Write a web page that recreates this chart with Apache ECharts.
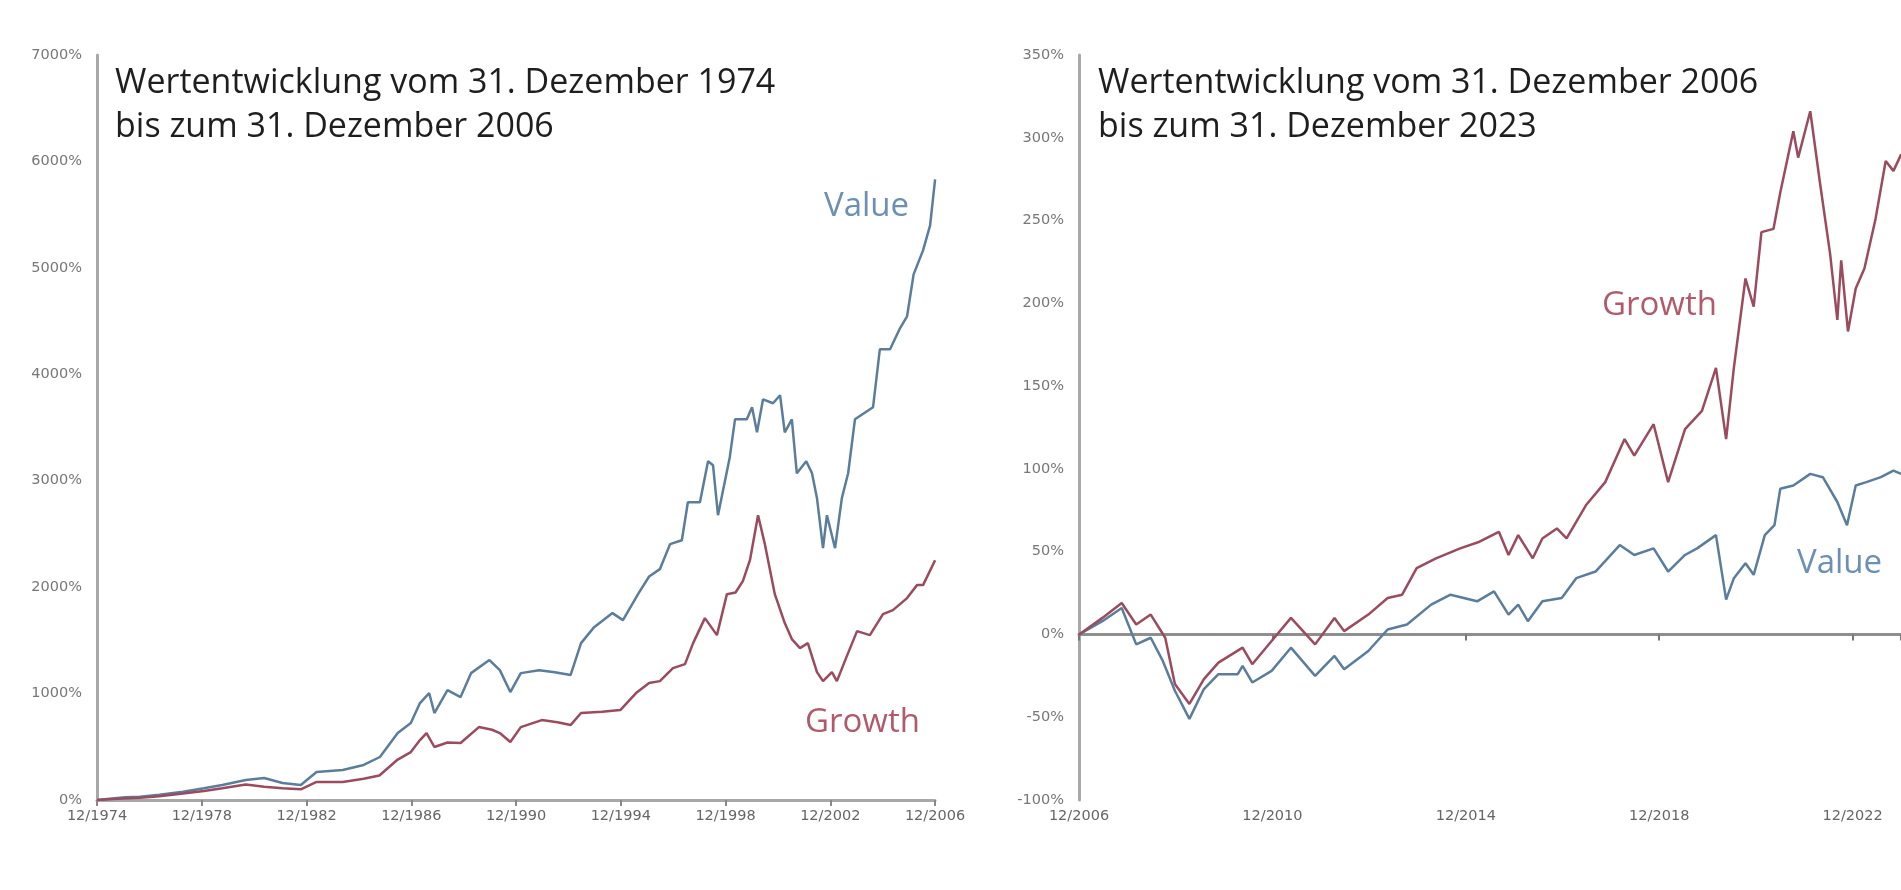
<!DOCTYPE html>
<html>
<head>
<meta charset="utf-8">
<title>Value vs Growth</title>
<script src="https://cdn.jsdelivr.net/npm/echarts@6/dist/echarts.min.js"></script>
<style>
  html, body { margin: 0; padding: 0; background: #ffffff; }
  #chart { width: 1901px; height: 890px; }
</style>
</head>
<body>
<div id="chart"></div>
<script>
// left panel: 12/1974 - 12/2006 (decimal years, cumulative return in %)
const leftValueYears = [1974.92, 1975.5, 1976.0, 1976.56, 1977.3, 1978.2, 1979.0, 1979.7, 1980.6, 1981.3, 1982.0, 1982.7, 1983.3, 1984.3, 1985.1, 1985.72, 1986.4, 1986.9, 1987.25, 1987.6, 1987.8, 1988.3, 1988.8, 1989.2, 1989.9, 1990.3, 1990.7, 1991.1, 1991.8, 1992.4, 1993.0, 1993.4, 1993.9, 1994.6, 1995.0, 1995.6, 1996.0, 1996.41, 1996.8, 1997.25, 1997.48, 1997.94, 1998.25, 1998.44, 1998.63, 1999.08, 1999.28, 1999.73, 1999.93, 2000.12, 2000.35, 2000.73, 2001.0, 2001.18, 2001.45, 2001.64, 2002.0, 2002.22, 2002.41, 2002.64, 2002.79, 2003.1, 2003.36, 2003.6, 2003.86, 2004.55, 2004.81, 2005.2, 2005.58, 2005.85, 2006.1, 2006.46, 2006.73, 2006.92]
const leftValuePct = [0, 15, 25, 31, 50, 78, 110, 141, 188, 207, 160, 141, 263, 282, 329, 404, 629, 723, 911, 1005, 817, 1033, 967, 1192, 1315, 1220, 1014, 1192, 1220, 1200, 1174, 1474, 1624, 1756, 1690, 1944, 2100, 2169, 2404, 2441, 2798, 2798, 3183, 3146, 2676, 3221, 3577, 3577, 3690, 3455, 3765, 3728, 3803, 3455, 3577, 3070, 3183, 3070, 2836, 2366, 2676, 2366, 2836, 3070, 3577, 3690, 4235, 4235, 4432, 4545, 4939, 5164, 5399, 5831]

const leftGrowthYears = [1974.92, 1975.5, 1976.56, 1977.3, 1978.2, 1979.0, 1979.7, 1980.6, 1981.3, 1982.0, 1982.7, 1983.3, 1984.3, 1985.1, 1985.7, 1986.4, 1986.9, 1987.25, 1987.5, 1987.8, 1988.3, 1988.8, 1989.5, 1990.0, 1990.3, 1990.7, 1991.1, 1991.9, 1992.5, 1993.0, 1993.4, 1994.2, 1994.9, 1995.5, 1996.0, 1996.41, 1996.91, 1997.37, 1997.68, 1998.13, 1998.59, 1998.97, 1999.3, 1999.58, 1999.85, 2000.16, 2000.42, 2000.8, 2001.18, 2001.45, 2001.76, 2002.06, 2002.41, 2002.64, 2002.98, 2003.17, 2003.55, 2003.94, 2004.43, 2004.93, 2005.31, 2005.85, 2006.23, 2006.46, 2006.92]
const leftGrowthPct = [0, 10, 20, 35, 60, 85, 110, 145, 125, 110, 100, 170, 170, 200, 230, 380, 450, 563, 629, 498, 540, 535, 685, 660, 629, 545, 685, 751, 730, 704, 817, 830, 845, 1005, 1100, 1117, 1239, 1277, 1474, 1709, 1549, 1934, 1950, 2056, 2253, 2676, 2404, 1934, 1662, 1512, 1427, 1474, 1202, 1117, 1202, 1117, 1352, 1587, 1549, 1746, 1784, 1897, 2019, 2019, 2253]

// right panel: 12/2006 - 12/2023
const rightValueYears = [2006.92, 2007.4, 2007.8, 2008.1, 2008.4, 2008.65, 2008.9, 2009.2, 2009.5, 2009.8, 2010.2, 2010.3, 2010.5, 2010.9, 2011.3, 2011.8, 2012.2, 2012.4, 2012.9, 2013.3, 2013.7, 2014.2, 2014.6, 2015.15, 2015.5, 2015.8, 2016.0, 2016.2, 2016.5, 2016.9, 2017.2, 2017.6, 2018.1, 2018.4, 2018.8, 2019.1, 2019.45, 2019.7, 2020.09, 2020.3, 2020.46, 2020.7, 2020.87, 2021.1, 2021.3, 2021.42, 2021.69, 2022.04, 2022.3, 2022.6, 2022.8, 2022.98, 2023.2, 2023.5, 2023.76, 2023.92]
const rightValuePct = [0, 8, 16, -6, -2, -16, -34, -51, -33, -24, -24, -19, -29, -22, -8, -25, -13, -21, -10, 3, 6, 18, 24, 20, 26, 12, 18, 8, 20, 22, 34, 38, 54, 48, 52, 38, 48, 52, 60, 21, 34, 43, 36, 60, 66, 88, 90, 97, 95, 80, 66, 90, 92, 95, 99, 97]

const rightGrowthYears = [2006.92, 2007.4, 2007.8, 2008.1, 2008.4, 2008.7, 2008.9, 2009.2, 2009.5, 2009.8, 2010.3, 2010.5, 2010.9, 2011.3, 2011.8, 2012.2, 2012.4, 2012.9, 2013.3, 2013.6, 2013.9, 2014.3, 2014.8, 2015.2, 2015.6, 2015.8, 2016.0, 2016.3, 2016.5, 2016.8, 2017.0, 2017.4, 2017.8, 2018.2, 2018.4, 2018.8, 2019.1, 2019.45, 2019.8, 2020.09, 2020.3, 2020.46, 2020.7, 2020.87, 2021.03, 2021.28, 2021.42, 2021.69, 2021.79, 2022.04, 2022.24, 2022.45, 2022.6, 2022.68, 2022.82, 2022.98, 2023.16, 2023.39, 2023.6, 2023.76, 2023.92]
const rightGrowthPct = [0, 10, 19, 6, 12, -2, -30, -42, -27, -17, -8, -18, -4, 10, -6, 10, 2, 12, 22, 24, 40, 46, 52, 56, 62, 48, 60, 46, 58, 64, 58, 78, 92, 118, 108, 127, 92, 124, 135, 161, 118, 161, 215, 198, 243, 245, 267, 304, 288, 316, 273, 230, 190, 226, 183, 209, 221, 251, 286, 280, 290]

// axis ticks (4-year steps, labels "12/yyyy")
const leftStartYear = 1974
const rightStartYear = 2006
const leftYTicks = { min: 0, max: 7000, step: 1000 }
const rightYTicks = { min: -100, max: 350, step: 50 }

const valueColor = '#5b7d9c'
const growthColor = '#9a4b5d'
const axisGray = '#a8a8a8'
const labelFont = 'DejaVu Sans'
const titleFont = 'Open Sans'

// year -> offset from 12/startYear, so tick 0 = 12/startYear
function toPoints(years, pct, startYear) {
  const base = startYear + 11 / 12
  return years.map((y, i) => [y - base, pct[i]])
}

const chart = echarts.init(document.getElementById('chart'))

const xLabelStyle = {
  color: '#666',
  fontSize: 14.5,
  fontFamily: labelFont,
  margin: 9
}
const yLabelStyle = {
  color: '#777',
  fontSize: 14.5,
  fontFamily: labelFont,
  margin: 15,
  formatter: v => v + '%'
}
const titleStyle = { fontFamily: titleFont, fontSize: 34, fontWeight: 'normal', color: '#1e1e1e', lineHeight: 44 }
const valueLabel = { fontFamily: titleFont, fontSize: 33, fontWeight: 'normal', color: '#6b90b3' }
const growthLabel = { fontFamily: titleFont, fontSize: 33, fontWeight: 'normal', color: '#b05a6c' }

const option = {
  backgroundColor: '#ffffff',
  animation: false,
  title: [
    { text: 'Wertentwicklung vom 31. Dezember 1974\nbis zum 31. Dezember 2006', left: 110, top: 56, textStyle: titleStyle },
    { text: 'Wertentwicklung vom 31. Dezember 2006\nbis zum 31. Dezember 2023', left: 1093, top: 56, textStyle: titleStyle },
    { text: 'Value', left: 819, top: 185, textStyle: valueLabel },
    { text: 'Growth', left: 800, top: 701, textStyle: growthLabel },
    { text: 'Growth', left: 1597, top: 284, textStyle: growthLabel },
    { text: 'Value', left: 1792, top: 542, textStyle: valueLabel }
  ],
  grid: [
    { left: 97, top: 55, width: 838, height: 745 },
    { left: 1079, top: 55, width: 830, height: 745 }
  ],
  xAxis: [
    {
      gridIndex: 0, type: 'value', min: 0, max: 32, interval: 4,
      axisLine: { lineStyle: { color: axisGray, width: 3 } },
      axisTick: { show: true, length: 6, lineStyle: { color: '#888', width: 2 } },
      axisLabel: Object.assign({ formatter: v => '12/' + (leftStartYear + v) }, xLabelStyle),
      splitLine: { show: false }
    },
    {
      // zero line with ticks
      gridIndex: 1, type: 'value', min: 0, max: 17, interval: 4,
      axisLine: { onZero: true, lineStyle: { color: '#8f8f8f', width: 3 } },
      axisTick: { show: true, length: 6, lineStyle: { color: '#777', width: 2 } },
      axisLabel: { show: false },
      splitLine: { show: false }
    },
    {
      // labels at bottom of the right panel
      gridIndex: 1, type: 'value', min: 0, max: 17, interval: 4, position: 'bottom',
      axisLine: { show: false, onZero: false },
      axisTick: { show: false },
      axisLabel: Object.assign({ formatter: v => '12/' + (rightStartYear + v) }, xLabelStyle),
      splitLine: { show: false }
    }
  ],
  yAxis: [
    {
      gridIndex: 0, type: 'value', min: leftYTicks.min, max: leftYTicks.max, interval: leftYTicks.step,
      axisLine: { show: true, lineStyle: { color: axisGray, width: 3 } },
      axisTick: { show: false },
      axisLabel: yLabelStyle,
      splitLine: { show: false }
    },
    {
      gridIndex: 1, type: 'value', min: rightYTicks.min, max: rightYTicks.max, interval: rightYTicks.step,
      axisLine: { show: true, onZero: false, lineStyle: { color: axisGray, width: 3 } },
      axisTick: { show: false },
      axisLabel: yLabelStyle,
      splitLine: { show: false }
    }
  ],
  series: [
    {
      name: 'Value', type: 'line', xAxisIndex: 0, yAxisIndex: 0, showSymbol: false,
      data: toPoints(leftValueYears, leftValuePct, leftStartYear),
      lineStyle: { color: valueColor, width: 2.5 }, z: 3
    },
    {
      name: 'Growth', type: 'line', xAxisIndex: 0, yAxisIndex: 0, showSymbol: false,
      data: toPoints(leftGrowthYears, leftGrowthPct, leftStartYear),
      lineStyle: { color: growthColor, width: 2.5 }, z: 3
    },
    {
      name: 'Value', type: 'line', xAxisIndex: 1, yAxisIndex: 1, showSymbol: false,
      data: toPoints(rightValueYears, rightValuePct, rightStartYear),
      lineStyle: { color: valueColor, width: 2.5 }, z: 3
    },
    {
      name: 'Growth', type: 'line', xAxisIndex: 1, yAxisIndex: 1, showSymbol: false,
      data: toPoints(rightGrowthYears, rightGrowthPct, rightStartYear),
      lineStyle: { color: growthColor, width: 2.5 }, z: 3
    }
  ]
}

chart.setOption(option)
</script>
</body>
</html>
